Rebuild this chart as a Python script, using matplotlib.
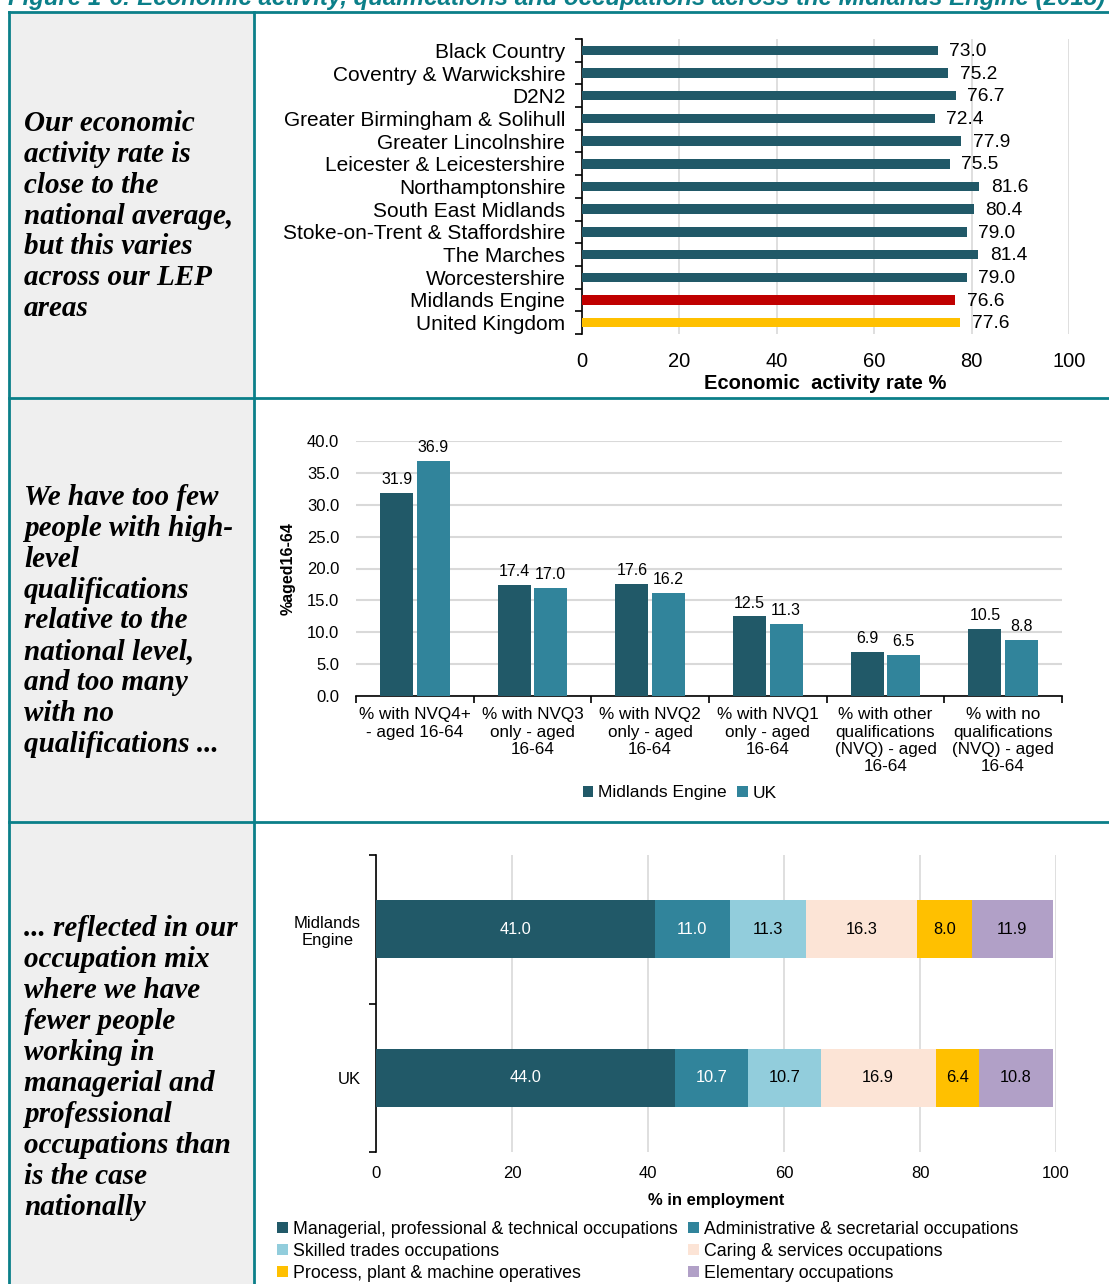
import numpy as np
import matplotlib
matplotlib.use('Agg')
import matplotlib.pyplot as plt
from matplotlib.patches import Rectangle
from matplotlib.lines import Line2D

plt.rcParams['font.family'] = 'Liberation Sans'

# --- data ---
lep_names = ['Black Country', 'Coventry & Warwickshire', 'D2N2',
             'Greater Birmingham & Solihull', 'Greater Lincolnshire',
             'Leicester & Leicestershire', 'Northamptonshire',
             'South East Midlands', 'Stoke-on-Trent & Staffordshire',
             'The Marches', 'Worcestershire', 'Midlands Engine', 'United Kingdom']
activity_rate = [73.0, 75.2, 76.7, 72.4, 77.9, 75.5, 81.6, 80.4, 79.0, 81.4, 79.0, 76.6, 77.6]

qual_labels = ['% with NVQ4+\n- aged 16-64', '% with NVQ3\nonly - aged\n16-64',
               '% with NVQ2\nonly - aged\n16-64', '% with NVQ1\nonly - aged\n16-64',
               '% with other\nqualifications\n(NVQ) - aged\n16-64',
               '% with no\nqualifications\n(NVQ) - aged\n16-64']
qual_me = [31.9, 17.4, 17.6, 12.5, 6.9, 10.5]
qual_uk = [36.9, 17.0, 16.2, 11.3, 6.5, 8.8]

occ_groups = ['Midlands\nEngine', 'UK']
occ_names = ['Managerial, professional & technical occupations',
             'Administrative & secretarial occupations',
             'Skilled trades occupations',
             'Caring & services occupations',
             'Process, plant & machine operatives',
             'Elementary occupations']
occ_me = [41.0, 11.0, 11.3, 16.3, 8.0, 11.9]
occ_uk = [44.0, 10.7, 10.7, 16.9, 6.4, 10.8]

dark = '#215968'
mid = '#31849B'
teal = '#0B7F89'
grid_c = '#D9D9D9'
occ_colors = [dark, mid, '#92CDDC', '#FCE4D6', '#FFC000', '#B1A0C7']
occ_txt = ['white', 'white', 'black', 'black', 'black', 'black']

W, H = 1109, 1284
fig = plt.figure(figsize=(W / 100, H / 100), dpi=100)


def ax_px(l, t, r, b):
    return fig.add_axes([l / W, 1 - b / H, (r - l) / W, (b - t) / H])


# --- table frame ---
fig.patches.append(Rectangle((9 / W, 0), (254 - 9) / W, 1 - 12 / H,
                             transform=fig.transFigure, facecolor='#EFEFEF',
                             edgecolor='none', zorder=0))
for x in [9, 254]:
    fig.add_artist(Line2D([x / W, x / W], [0, 1 - 12 / H], color=teal, lw=2,
                          transform=fig.transFigure))
for y in [12, 398, 822]:
    fig.add_artist(Line2D([9 / W, 1], [1 - y / H, 1 - y / H], color=teal, lw=2,
                          transform=fig.transFigure))

fig.text(8 / W, 1 - 5 / H,
         'Figure 1-6: Economic activity, qualifications and occupations across the Midlands Engine (2018)',
         color=teal, fontsize=17.3, fontweight='bold', style='italic', va='baseline')

side_font = dict(family='Liberation Serif', fontsize=21, fontweight='bold',
                 style='italic', linespacing=1.19, va='center', ha='left')
fig.text(24 / W, 1 - 216 / H,
         'Our economic\nactivity rate is\nclose to the\nnational average,\nbut this varies\nacross our LEP\nareas',
         **side_font)
fig.text(24 / W, 1 - 621 / H,
         'We have too few\npeople with high-\nlevel\nqualifications\nrelative to the\nnational level,\nand too many\nwith no\nqualifications ...',
         **side_font)
fig.text(24 / W, 1 - 1068 / H,
         '... reflected in our\noccupation mix\nwhere we have\nfewer people\nworking in\nmanagerial and\nprofessional\noccupations than\nis the case\nnationally',
         **side_font)

# --- chart 1: economic activity ---
ax1 = ax_px(582, 39, 1069, 334)
n = len(lep_names)
cols1 = [dark] * (n - 2) + ['#C00000', '#FFC000']
y = np.arange(n)
ax1.barh(y, activity_rate, height=0.42, color=cols1, zorder=3)
for yi, v in zip(y, activity_rate):
    ax1.text(v + 2.4, yi + 0.05, '%.1f' % v, va='center', ha='left', fontsize=13.8, zorder=4)
ax1.set_xlim(0, 100)
ax1.set_ylim(n - 0.5, -0.5)
ax1.set_yticks(y)
ax1.set_yticklabels(lep_names, fontsize=15)
ax1.set_yticks(np.arange(-0.5, n, 1), minor=True)
ax1.tick_params(axis='y', which='major', length=0, pad=12)
ax1.tick_params(axis='y', which='minor', length=5, width=1.2, direction='out')
ax1.set_xticks(np.arange(0, 101, 20))
ax1.tick_params(axis='x', length=0, labelsize=14.5, pad=13)
ax1.xaxis.grid(True, color=grid_c, lw=1.2, zorder=0)
for s in ['top', 'right', 'bottom']:
    ax1.spines[s].set_visible(False)
ax1.spines['left'].set_linewidth(1.2)
ax1.set_xlabel('Economic  activity rate %', fontsize=14.5, fontweight='bold', labelpad=2)

# --- chart 2: qualifications ---
ax2 = ax_px(356, 441, 1062, 696)
xq = np.arange(len(qual_labels))
b1 = ax2.bar(xq - 0.155, qual_me, width=0.28, color=dark, zorder=3, label='Midlands Engine')
b2 = ax2.bar(xq + 0.155, qual_uk, width=0.28, color=mid, zorder=3, label='UK')
for xi, v in zip(xq, qual_me):
    ax2.text(xi - 0.155, v + 0.9, '%.1f' % v, ha='center', va='bottom', fontsize=11.5)
for xi, v in zip(xq, qual_uk):
    ax2.text(xi + 0.155, v + 0.9, '%.1f' % v, ha='center', va='bottom', fontsize=11.5)
ax2.set_xlim(-0.5, len(qual_labels) - 0.5)
ax2.set_ylim(0, 40)
ax2.set_yticks(np.arange(0, 40.1, 5))
ax2.set_yticklabels(['%.1f' % v for v in np.arange(0, 40.1, 5)])
ax2.tick_params(axis='y', length=0, labelsize=12, pad=12)
ax2.set_xticks(xq)
ax2.set_xticklabels(qual_labels, fontsize=12.3, linespacing=1.2, va='top')
ax2.set_xticks(np.arange(-0.5, len(qual_labels), 1), minor=True)
ax2.tick_params(axis='x', which='major', length=0, pad=8)
ax2.tick_params(axis='x', which='minor', length=5, width=1.2)
ax2.yaxis.grid(True, color=grid_c, lw=1.5, zorder=0)
for s in ['top', 'right', 'left']:
    ax2.spines[s].set_visible(False)
ax2.spines['bottom'].set_linewidth(1.2)
ax2.set_ylabel('%aged16-64', fontsize=11.5, fontweight='bold', labelpad=8)
ax2.legend(handles=[b1, b2], loc='center', bbox_to_anchor=(680 / W, 1 - 793 / H),
           bbox_transform=fig.transFigure, ncol=2, frameon=False, fontsize=12.5,
           handlelength=0.6, handleheight=0.6, handletextpad=0.3, columnspacing=0.6)

# --- chart 3: occupations ---
ax3 = ax_px(376, 855, 1056, 1152)
yo = np.arange(len(occ_groups))
left = np.zeros(len(occ_groups))
bars = []
for k in range(len(occ_names)):
    vals = np.array([occ_me[k], occ_uk[k]])
    b = ax3.barh(yo, vals, left=left, height=0.39, color=occ_colors[k], zorder=3,
                 label=occ_names[k])
    bars.append(b)
    for yi, l0, v in zip(yo, left, vals):
        ax3.text(l0 + v / 2, yi, '%.1f' % v, ha='center', va='center',
                 fontsize=11.8, color=occ_txt[k], zorder=4)
    left = left + vals
ax3.set_xlim(0, 100)
ax3.set_ylim(len(occ_groups) - 0.5, -0.5)
ax3.set_yticks(yo)
ax3.set_yticklabels(occ_groups, fontsize=12, ha='right', multialignment='center')
ax3.tick_params(axis='y', which='major', length=0, pad=11)
ax3.set_yticks(np.arange(-0.5, len(occ_groups), 1), minor=True)
ax3.tick_params(axis='y', which='minor', length=5, width=1.2)
ax3.set_xticks(np.arange(0, 101, 20))
ax3.tick_params(axis='x', length=0, labelsize=12, pad=10)
ax3.xaxis.grid(True, color=grid_c, lw=1.2, zorder=0)
for s in ['top', 'right', 'bottom']:
    ax3.spines[s].set_visible(False)
ax3.spines['left'].set_linewidth(1.2)
ax3.set_xlabel('% in employment', fontsize=12, fontweight='bold', labelpad=9)
order = [0, 2, 4, 1, 3, 5]
ax3.legend(handles=[bars[i] for i in order], labels=[occ_names[i] for i in order],
           loc='upper left', bbox_to_anchor=(277 / W, 1 - 1221 / H),
           bbox_transform=fig.transFigure, ncol=2, frameon=False, fontsize=12.8,
           handlelength=0.6, handleheight=0.6, handletextpad=0.3,
           columnspacing=0.6, labelspacing=0.28, borderpad=0, borderaxespad=0)

fig.savefig('out.png', dpi=100)
